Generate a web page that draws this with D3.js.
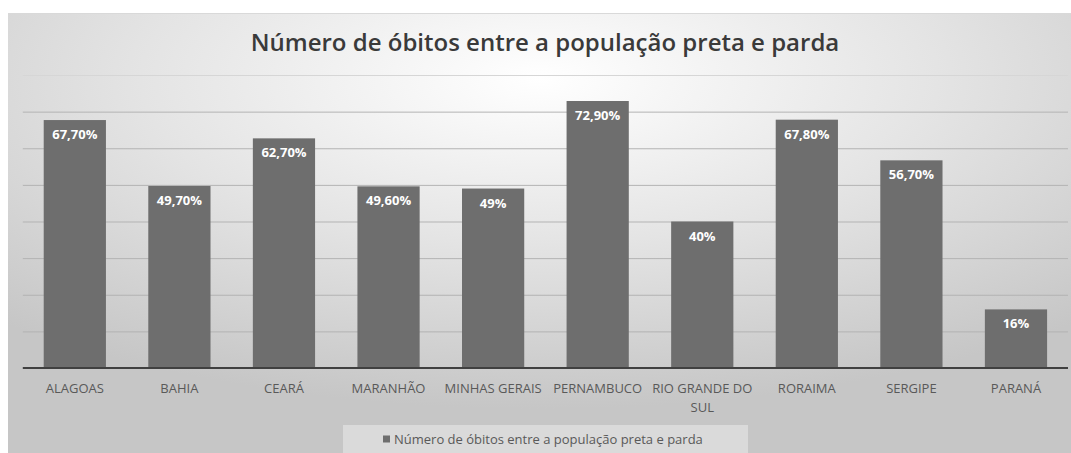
<!DOCTYPE html>
<html>
<head>
<meta charset="utf-8">
<script src="https://cdn.jsdelivr.net/npm/d3@7"></script>
<style>
  body { margin: 0; background: #fff; }
  svg { display: block; font-family: "Open Sans", sans-serif; }
</style>
</head>
<body>
<svg id="chart" width="1071" height="453"></svg>
<script>
// data
var states = ["ALAGOAS", "BAHIA", "CEARÁ", "MARANHÃO", "MINHAS GERAIS", "PERNAMBUCO", "RIO GRANDE DO SUL", "RORAIMA", "SERGIPE", "PARANÁ"];
var deaths = [67.7, 49.7, 62.7, 49.6, 49, 72.9, 40, 67.8, 56.7, 16];
var valueLabels = ["67,70%", "49,70%", "62,70%", "49,60%", "49%", "72,90%", "40%", "67,80%", "56,70%", "16%"];
var gridTicks = [10, 20, 30, 40, 50, 60, 70, 80];
var title = "Número de óbitos entre a população preta e parda";
var seriesName = "Número de óbitos entre a população preta e parda";

var svg = d3.select("#chart");

// chart frame (gray shaded like the office chart)
var defs = svg.append("defs");
var grad = defs.append("radialGradient")
  .attr("id", "bg")
  .attr("cx", 0.5).attr("cy", 0.15).attr("r", 0.75)
  .attr("fx", 0.5).attr("fy", 0.15);
grad.append("stop").attr("offset", "0%").attr("stop-color", "#ffffff");
grad.append("stop").attr("offset", "50%").attr("stop-color", "#e4e4e4");
grad.append("stop").attr("offset", "100%").attr("stop-color", "#c6c6c6");

svg.append("rect")
  .attr("x", 8).attr("y", 13)
  .attr("width", 1063).attr("height", 440)
  .attr("fill", "url(#bg)");
svg.append("line")
  .attr("x1", 8).attr("x2", 1071).attr("y1", 13.5).attr("y2", 13.5)
  .attr("stroke", "#d9d9d9");

svg.append("text")
  .attr("x", 545).attr("y", 51)
  .attr("text-anchor", "middle")
  .attr("fill", "#3a3a3a")
  .style("font-size", "24px")
  .style("font-weight", "600")
  .text(title);

var plotLeft = 22.8, plotRight = 1068, plotTop = 75, plotBottom = 368;

var x = d3.scaleBand()
  .domain(states)
  .range([plotLeft, plotRight])
  .paddingInner(0.405)
  .paddingOuter(0.2);

var y = d3.scaleLinear()
  .domain([0, 80])
  .range([plotBottom, plotTop]);

// gridlines
svg.append("g")
  .attr("transform", "translate(" + plotLeft + ",0)")
  .call(d3.axisLeft(y).tickValues(gridTicks).tickSize(-(plotRight - plotLeft)).tickFormat(""))
  .call(function(g) { g.select(".domain").remove(); })
  .selectAll("line")
  .attr("stroke", function(d) { return d === 80 ? "#d6d6d6" : "#b3b3b3"; });

// bars
svg.append("g").selectAll("rect")
  .data(deaths).enter()
  .append("rect")
  .attr("x", function(d, i) { return x(states[i]); })
  .attr("y", function(d) { return y(d); })
  .attr("width", x.bandwidth())
  .attr("height", function(d) { return plotBottom - y(d); })
  .attr("fill", "#6e6e6e");

svg.append("g").selectAll("text")
  .data(deaths).enter()
  .append("text")
  .attr("x", function(d, i) { return x(states[i]) + x.bandwidth() / 2; })
  .attr("y", function(d) { return y(d) + 19; })
  .attr("text-anchor", "middle")
  .attr("fill", "#ffffff")
  .style("font-size", "13px")
  .style("font-weight", "bold")
  .text(function(d, i) { return valueLabels[i]; });

// x axis
var xAxis = svg.append("g")
  .attr("transform", "translate(0," + plotBottom + ")")
  .call(d3.axisBottom(x).tickSize(0).tickPadding(0));
xAxis.select(".domain").remove();
xAxis.append("line")
  .attr("x1", plotLeft).attr("x2", plotRight)
  .attr("stroke", "#404040").attr("stroke-width", 2);

xAxis.selectAll(".tick text")
  .attr("fill", "#595959")
  .style("font-size", "13px")
  .style("font-family", "Open Sans, sans-serif")
  .attr("dy", null)
  .attr("y", 25)
  .call(wrap, x.step());

function wrap(sel, width) {
  sel.each(function() {
    var t = d3.select(this);
    var words = t.text().split(" ");
    t.text(null);
    var line = [], lineNo = 0;
    var tspan = t.append("tspan").attr("x", 0).attr("y", 25);
    words.forEach(function(w) {
      line.push(w);
      tspan.text(line.join(" "));
      if (tspan.node().getComputedTextLength() > width - 4 && line.length > 1) {
        line.pop();
        tspan.text(line.join(" "));
        line = [w];
        lineNo += 1;
        tspan = t.append("tspan").attr("x", 0).attr("y", 25 + lineNo * 19).text(w);
      }
    });
  });
}

// legend
var legend = svg.append("g");
legend.append("rect")
  .attr("x", 343).attr("y", 425)
  .attr("width", 405).attr("height", 28)
  .attr("fill", "#ffffff").attr("fill-opacity", 0.35);
legend.append("rect")
  .attr("x", 383).attr("y", 435.5)
  .attr("width", 7).attr("height", 7)
  .attr("fill", "#6e6e6e");
legend.append("text")
  .attr("x", 394).attr("y", 444)
  .attr("fill", "#595959")
  .style("font-size", "13px")
  .text(seriesName);
</script>
</body>
</html>
